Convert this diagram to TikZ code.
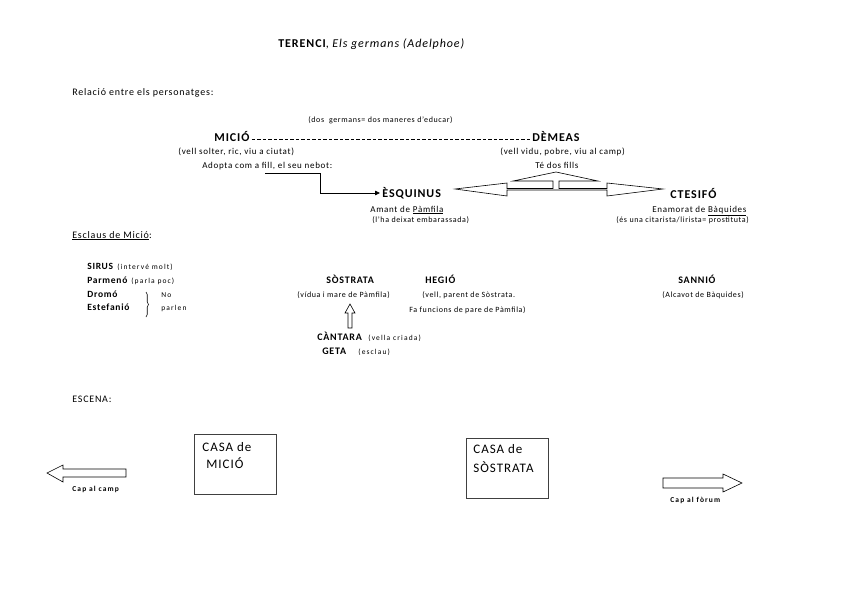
\documentclass[tikz,border=0pt]{standalone}
\usepackage{fontspec}
\setmainfont{Carlito}[LetterSpace=7.7]
\usetikzlibrary{arrows.meta,decorations.pathreplacing}
\newcommand\tinytxt{\fontsize{7.5}{9}\selectfont\addfontfeature{LetterSpace=15}}
\begin{document}
\begin{tikzpicture}[x=1pt,y=-1pt,line width=0.7pt,
	every node/.style={inner sep=0pt,anchor=base west},
	person/.style={font=\bfseries\fontsize{12}{14}\selectfont},
	minor/.style={font=\bfseries\fontsize{10}{12}\selectfont},
	slave/.style={font=\bfseries\fontsize{9.5}{11}\selectfont},
	txt/.style={font=\fontsize{9}{11}\selectfont},
	heading/.style={font=\fontsize{10}{12}\selectfont},
	notetext/.style={font=\fontsize{8}{10}\selectfont},
	tinytext/.style={font=\tinytxt},
	tinybold/.style={font=\bfseries\tinytxt},
	casatext/.style={font=\fontsize{13}{15}\selectfont},
	casabox/.style={draw=black!75,anchor=north west,minimum width=82pt,minimum height=60pt},
	blockarrow/.style={draw,line width=0.6pt,line join=miter}]
	\useasboundingbox (0,0) rectangle (848,599);
	\node[font=\fontsize{12}{14}\selectfont] (title) at (278,48) {\textbf{TERENCI}, \textit{Els germans (Adelphoe)}};
	\node[heading] (relacio) at (72,96) {Relació entre els personatges:};
	\node[notetext] (germans) at (308,123) {(dos\ \ germans= dos maneres d'educar)};
	\node[person] (micio) at (214,142) {MICIÓ};
	\node[person] (demeas) at (532,142) {DÈMEAS};
	\draw[dash pattern=on 3.5pt off 2pt,line width=0.6pt,shorten <=2pt,shorten >=2pt] ([yshift=3pt]micio.base east) -- ([yshift=3pt]demeas.base west);
	\node[txt] (solter) at (178,154) {(vell solter, ric, viu a ciutat)};
	\node[txt] (adopta) at (202,168) {Adopta com a fill, el seu nebot:};
	\node[txt] (vidu) at (500,154) {(vell vidu, pobre, viu al camp)};
	\node[txt] (fills) at (535,168) {Té dos fills};
	\node[person] (esquinus) at (382,197) {ÈSQUINUS};
	\node[txt] (amant) at (370,212) {Amant de \underline{Pàmfila}};
	\node[notetext] (deixat) at (372,222) {(l'ha deixat embarassada)};
	\node[person] (ctesifo) at (670,198) {CTESIFÓ};
	\node[txt] (enamorat) at (652,212) {Enamorat de \underline{Bàquides}};
	\node[notetext] (citarista) at (616,222) {(és una citarista/lirista= prostituta)};
	\coordinate (adopt) at (265,173);
	\draw[-{Triangle[length=5pt,width=4.5pt]},line width=0.8pt,shorten >=2pt] (adopt) -- ++(55,0) |- ([yshift=4pt]esquinus.base west);
	\draw[blockarrow] (455,189) -- (507,183) -- (507,188.5) -- (553,188.5) -- (553,181) -- (513,181)
		-- (556,172) -- (598,181) -- (559,181) -- (559,188.5) -- (607,188.5) -- (607,183)
		-- (663,189) -- (607,196) -- (607,190) -- (507,190) -- (507,196) -- cycle;
	\node[heading] (esclaus) at (72,238) {\underline{Esclaus de Mició}:};
	\node[slave] (sirus) at (87,269) {SIRUS};
	\node[tinytext] (molt) at (117,269) {(intervé molt)};
	\node[slave] (parmeno) at (87,283) {Parmenó};
	\node[tinytext] (poc) at (131,283) {(parla poc)};
	\node[slave] (dromo) at (87,297) {Dromó};
	\node[tinytext] (no) at (161,297) {No};
	\node[slave] (estefanio) at (87,310) {Estefanió};
	\node[tinytext] (parlen) at (161,310) {parlen};
	\draw[decorate,decoration={brace,amplitude=2.5pt},line width=0.6pt] (146,292) -- (146,317);
	\node[minor] (sostrata) at (326,283) {SÒSTRATA};
	\node[notetext] (vidua) at (297,297) {(vídua i mare de Pàmfila)};
	\draw[blockarrow] (350,304) -- (355,313) -- (352,313) -- (352,328) -- (348,328) -- (348,313) -- (345,313) -- cycle;
	\node[minor] (cantara) at (317,340) {CÀNTARA};
	\node[tinytext] (criada) at (368,340) {(vella criada)};
	\node[minor] (geta) at (322,354) {GETA};
	\node[tinytext] (esclau) at (358,354) {(esclau)};
	\node[minor] (hegio) at (425,283) {HEGIÓ};
	\node[notetext] (parent) at (422,297) {(vell, parent de Sòstrata.};
	\node[notetext] (funcions) at (409,312) {Fa funcions de pare de Pàmfila)};
	\node[minor] (sannio) at (678,283) {SANNIÓ};
	\node[notetext] (alcavot) at (662,297) {(Alcavot de Bàquides)};
	\node[heading] (escena) at (72,402) {ESCENA:};
	\node[casabox] (casamicio) at (194,434) {};
	\node[casatext] (casamicioa) at (202,451) {CASA de};
	\node[casatext] (casamiciob) at (206,468) {MICIÓ};
	\node[casabox] (casasostrata) at (466,438) {};
	\node[casatext] (casasostrataa) at (473,453) {CASA de};
	\node[casatext] (casasostratab) at (473,472) {SÒSTRATA};
	\draw[blockarrow] (47,473) -- (63,465) -- (63,469) -- (126,469) -- (126,477) -- (63,477) -- (63,482) -- cycle;
	\node[tinybold] (camp) at (72,491) {Cap al camp};
	\draw[blockarrow] (663,478) -- (723,478) -- (723,474) -- (742,483) -- (723,492) -- (723,488) -- (663,488) -- cycle;
	\node[tinybold] (forum) at (670,502) {Cap al fòrum};
\end{tikzpicture}
\end{document}
